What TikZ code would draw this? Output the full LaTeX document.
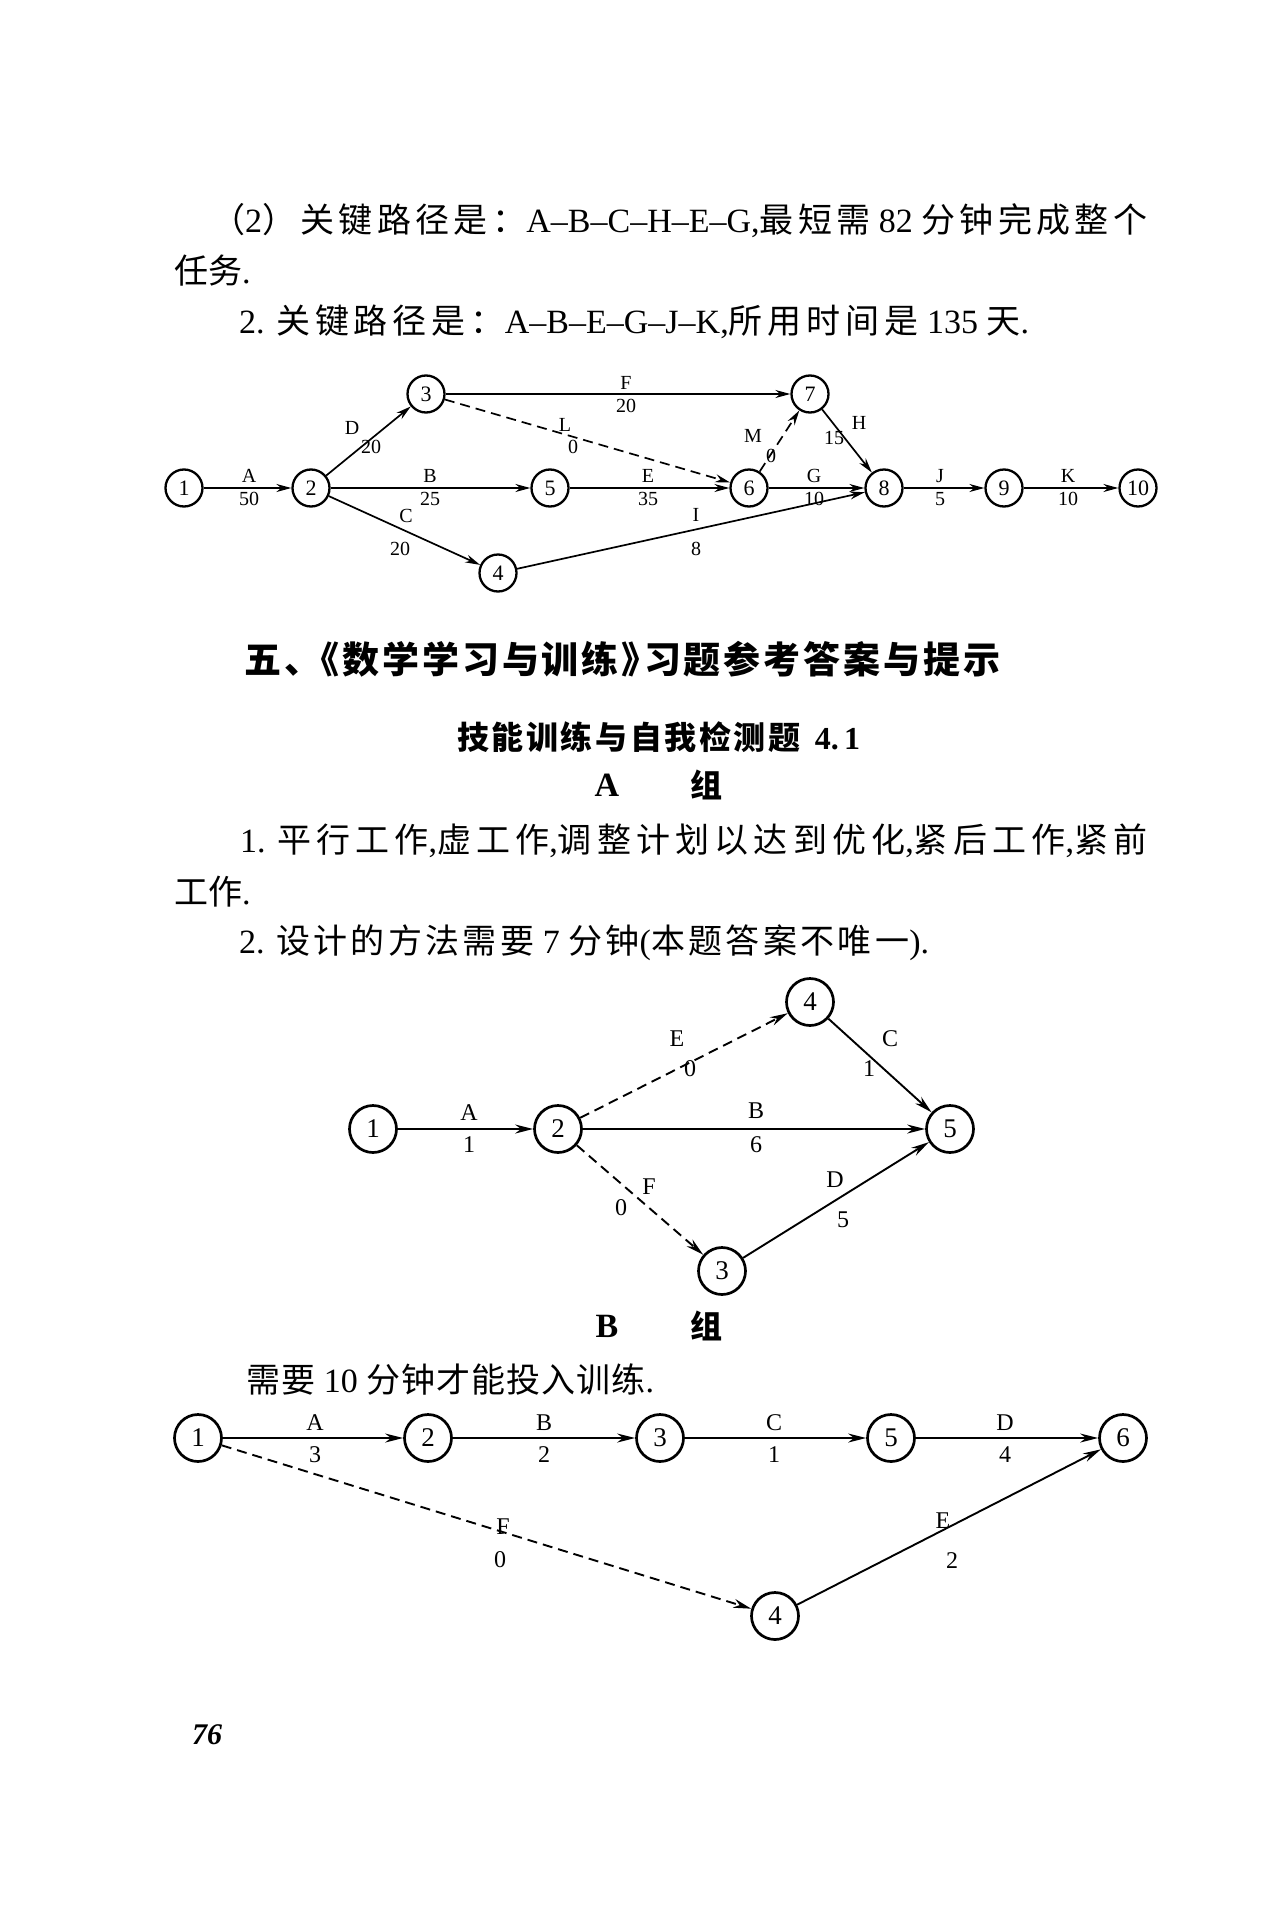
\documentclass[tikz,border=0pt]{standalone}
\usepackage{fontspec}
\setmainfont{Liberation Serif}
\newfontfamily\cjk{Noto Sans CJK SC}
\usetikzlibrary{arrows.meta}
\newcommand\zh[1]{{\cjk #1}}
% inter-character glue for CJK so that lines can be fitted to width
\XeTeXinterchartokenstate=1
\newXeTeXintercharclass\zhclass
\count255="4E00
\loop \XeTeXcharclass\count255=\zhclass \advance\count255 by 1 \ifnum\count255<"A000 \repeat
\count255="3000
\loop \XeTeXcharclass\count255=\zhclass \advance\count255 by 1 \ifnum\count255<"3040 \repeat
\count255="FF00
\loop \XeTeXcharclass\count255=\zhclass \advance\count255 by 1 \ifnum\count255<"FFF0 \repeat
\XeTeXinterchartoks\zhclass\zhclass={\hskip0pt plus 1fil\relax}
\XeTeXinterchartoks\zhclass 0={\hskip0pt plus 1fil\relax}
\XeTeXinterchartoks 0\zhclass={\hskip0pt plus 1fil\relax}
\newcommand\fitline[2]{\hbox to #1pt{#2}}
\begin{document}
\begin{tikzpicture}[x=1pt,y=-1pt,
  txt/.style={anchor=west,inner sep=0pt,font=\fontsize{34}{40}\selectfont},
  head/.style={anchor=west,inner sep=0pt,font=\fontsize{37}{44}\selectfont\bfseries},
  v1/.style={circle,draw,line width=2.3pt,minimum size=37pt,inner sep=0pt,font=\fontsize{22}{22}\selectfont},
  v2/.style={circle,draw,line width=2.7pt,minimum size=47pt,inner sep=0pt,font=\fontsize{27}{27}\selectfont},
  lb1/.style={inner sep=0pt,font=\fontsize{20}{20}\selectfont},
  lb2/.style={inner sep=0pt,font=\fontsize{24}{24}\selectfont},
  ar1/.style={line width=1.7pt,-{Stealth[length=15pt,width=8pt]}},
  ar2/.style={line width=1.9pt,-{Stealth[length=18pt,width=9pt]}},
  dsh/.style={dash pattern=on 10pt off 6pt}
]
\useasboundingbox[fill=white] (0,0) rectangle (1275,1913);

% ---------- text at top ----------
\node[txt] (t1) at (211,221) {\fitline{936}{\zh{（}2\zh{）关键路径是：}A–B–C–H–E–G,\zh{最短需} 82 \zh{分钟完成整个}}};
\node[txt] (t2) at (174,271) {\zh{任务}.};
\node[txt] (t3) at (239,322) {\fitline{790}{2. \zh{关键路径是：}A–B–E–G–J–K,\zh{所用时间是} 135 \zh{天}.}};

% ---------- diagram 1 ----------
\node[v1] (a1) at (184,488) {1};
\node[v1] (a2) at (311,488) {2};
\node[v1] (a3) at (426,394) {3};
\node[v1] (a4) at (498,573) {4};
\node[v1] (a5) at (550,488) {5};
\node[v1] (a6) at (749,488) {6};
\node[v1] (a7) at (810,394) {7};
\node[v1] (a8) at (884,488) {8};
\node[v1] (a9) at (1004,488) {9};
\node[v1] (a10) at (1138,488) {10};

\draw[ar1] (a1) -- (a2);
\draw[ar1] (a2) -- (a3);
\draw[ar1] (a2) -- (a5);
\draw[ar1] (a2) -- (a4);
\draw[ar1] (a3) -- (a7);
\draw[ar1,dsh] (a3) -- (a6);
\draw[ar1] (a5) -- (a6);
\draw[ar1,dsh] (a6) -- (a7);
\draw[ar1] (a6) -- (a8);
\draw[ar1] (a7) -- (a8);
\draw[ar1] (a4) -- (a8);
\draw[ar1] (a8) -- (a9);
\draw[ar1] (a9) -- (a10);

\node[lb1] (lA) at (249,476) {A};  \node[lb1] (lA2) at (249,499) {50};
\node[lb1] (lB) at (430,476) {B};  \node[lb1] (lB2) at (430,499) {25};
\node[lb1] (lE) at (648,476) {E};  \node[lb1] (lE2) at (648,499) {35};
\node[lb1] (lG) at (814,476) {G};  \node[lb1] (lG2) at (814,499) {10};
\node[lb1] (lJ) at (940,476) {J};  \node[lb1] (lJ2) at (940,499) {5};
\node[lb1] (lK) at (1068,476) {K}; \node[lb1] (lK2) at (1068,499) {10};
\node[lb1] (lF) at (626,383) {F};  \node[lb1] (lF2) at (626,406) {20};
\node[lb1] (lD) at (352,428) {D};  \node[lb1] (lD2) at (371,447) {20};
\node[lb1] (lL) at (565,425) {L};  \node[lb1] (lL2) at (573,447) {0};
\node[lb1] (lM) at (753,436) {M};  \node[lb1] (lM2) at (771,456) {0};
\node[lb1] (lH) at (859,423) {H};  \node[lb1] (lH2) at (834,438) {15};
\node[lb1] (lC) at (406,516) {C};  \node[lb1] (lC2) at (400,549) {20};
\node[lb1] (lI) at (696,515) {I};  \node[lb1] (lI2) at (696,549) {8};

% ---------- headings ----------
\node[head] (h1) at (244,659) {\fitline{756}{\zh{五、\kern-.5em《数学学习与训练》\kern-.4em习题参考答案与提示}}};
\node[txt,font=\fontsize{32}{36}\selectfont\bfseries] (h2) at (457,737) {\fitline{403}{\zh{技能训练与自我检测题}\hspace{.45em}4.\,1}};
\node[txt,font=\fontsize{34}{36}\selectfont\bfseries,anchor=center] (hA) at (607,785) {A};
\node[txt,font=\fontsize{32}{36}\selectfont\bfseries,anchor=center] (hA2) at (706,785) {\zh{组}};

\node[txt] (p1) at (240,841) {\fitline{907}{1. \zh{平行工作},\zh{虚工作},\zh{调整计划以达到优化},\zh{紧后工作},\zh{紧前}}};
\node[txt] (p2) at (174,892) {\zh{工作}.};
\node[txt] (p3) at (239,943) {\fitline{690}{2. \zh{设计的方法需要} 7 \zh{分钟}(\zh{本题答案不唯一}).}};

% ---------- diagram 2 ----------
\node[v2] (b1) at (373,1129) {1};
\node[v2] (b2) at (558,1129) {2};
\node[v2] (b4) at (810,1002) {4};
\node[v2] (b5) at (950,1129) {5};
\node[v2] (b3) at (722,1271) {3};

\draw[ar2] (b1) -- (b2);
\draw[ar2,dsh] (b2) -- (b4);
\draw[ar2] (b2) -- (b5);
\draw[ar2,dsh] (b2) -- (b3);
\draw[ar2] (b4) -- (b5);
\draw[ar2] (b3) -- (b5);

\node[lb2] (mA) at (469,1113) {A}; \node[lb2] (mA2) at (469,1145) {1};
\node[lb2] (mB) at (756,1111) {B}; \node[lb2] (mB2) at (756,1145) {6};
\node[lb2] (mE) at (677,1039) {E}; \node[lb2] (mE2) at (690,1069) {0};
\node[lb2] (mC) at (890,1039) {C}; \node[lb2] (mC2) at (869,1069) {1};
\node[lb2] (mF) at (649,1187) {F}; \node[lb2] (mF2) at (621,1208) {0};
\node[lb2] (mD) at (835,1180) {D}; \node[lb2] (mD2) at (843,1220) {5};

% ---------- B group ----------
\node[txt,font=\fontsize{34}{36}\selectfont\bfseries,anchor=center] (hB) at (607,1326) {B};
\node[txt,font=\fontsize{32}{36}\selectfont\bfseries,anchor=center] (hB2) at (706,1326) {\zh{组}};
\node[txt] (q1) at (246,1380) {\fitline{408}{\zh{需要} 10 \zh{分钟才能投入训练}.}};

% ---------- diagram 3 ----------
\node[v2] (c1) at (198,1438) {1};
\node[v2] (c2) at (428,1438) {2};
\node[v2] (c3) at (660,1438) {3};
\node[v2] (c5) at (891,1438) {5};
\node[v2] (c6) at (1123,1438) {6};
\node[v2] (c4) at (775,1616) {4};

\draw[ar2] (c1) -- (c2);
\draw[ar2] (c2) -- (c3);
\draw[ar2] (c3) -- (c5);
\draw[ar2] (c5) -- (c6);
\draw[ar2,dsh] (c1) -- (c4);
\draw[ar2] (c4) -- (c6);

\node[lb2] (nA) at (315,1423) {A}; \node[lb2] (nA2) at (315,1455) {3};
\node[lb2] (nB) at (544,1423) {B}; \node[lb2] (nB2) at (544,1455) {2};
\node[lb2] (nC) at (774,1423) {C}; \node[lb2] (nC2) at (774,1455) {1};
\node[lb2] (nD) at (1005,1423) {D}; \node[lb2] (nD2) at (1005,1455) {4};
\node[lb2] (nF) at (503,1527) {F}; \node[lb2] (nF2) at (500,1560) {0};
\node[lb2] (nE) at (943,1521) {E}; \node[lb2] (nE2) at (952,1561) {2};

% ---------- page number ----------
\node[inner sep=0pt,font=\fontsize{30}{30}\selectfont\bfseries\itshape] (pg) at (207,1735) {76};
\end{tikzpicture}
\end{document}
